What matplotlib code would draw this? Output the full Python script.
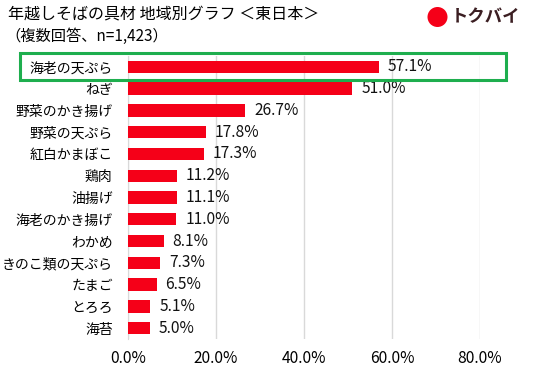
import matplotlib
matplotlib.use('Agg')
import matplotlib.pyplot as plt
from matplotlib.patches import Rectangle, Ellipse

plt.rcParams['font.family'] = ['Noto Sans CJK JP', 'DejaVu Sans']

items = ['海老の天ぷら', 'ねぎ', '野菜のかき揚げ', '野菜の天ぷら', '紅白かまぼこ', '鶏肉', '油揚げ',
         '海老のかき揚げ', 'わかめ', 'きのこ類の天ぷら', 'たまご', 'とろろ', '海苔']
values = [57.1, 51.0, 26.7, 17.8, 17.3, 11.2, 11.1, 11.0, 8.1, 7.3, 6.5, 5.1, 5.0]
xticks = [0, 20, 40, 60, 80]

W, H = 545, 371
fig = plt.figure(figsize=(W / 100, H / 100), dpi=100)
ax = fig.add_axes([128 / W, 1 - 339 / H, (480 - 128) / W, (339 - 56) / H])

ypos = list(range(len(items)))
ax.barh(ypos, values, height=0.57, color='#f50018', zorder=3)
for y, v in zip(ypos, values):
    ax.text(v + 2.0, y, f'{v:.1f}%', va='center', ha='left', fontsize=11.2, color='#111111')

ax.set_xlim(0, 80)
ax.set_ylim(len(items) - 0.5, -0.5)
ax.set_yticks(ypos)
ax.set_yticklabels(items, fontsize=10)
ax.set_xticks(xticks)
ax.set_xticklabels([f'{t:.1f}%' for t in xticks], fontsize=11.2)
ax.tick_params(length=0)
ax.tick_params(axis='x', pad=8)
ax.tick_params(axis='y', pad=11)
ax.grid(axis='x', color='#d9d9d9', linewidth=1, zorder=0)
for s in ['top', 'right', 'bottom']:
    ax.spines[s].set_visible(False)
ax.spines['left'].set_color('#d9d9d9')

# green highlight box around the top item
fig.add_artist(Rectangle((19.5 / W, 1 - 80 / H), (506 - 19.5) / W, (80 - 53) / H,
                         transform=fig.transFigure, fill=False,
                         edgecolor='#1eae4e', linewidth=2.2))

fig.text(8 / W, 1 - 14 / H, '年越しそばの具材 地域別グラフ ＜東日本＞', fontsize=11.5, va='center', ha='left')
fig.text(5 / W, 1 - 36 / H, '（複数回答、n=1,423）', fontsize=11, va='center', ha='left')

# logo
fig.add_artist(Ellipse((437.5 / W, 1 - 17 / H), 20 / W, 20 / H, transform=fig.transFigure,
                       facecolor='#f50018', edgecolor='none'))
fig.text(451 / W, 1 - 17 / H, 'トクバイ', fontsize=12.5, fontweight='bold', color='#3b1e22',
         va='center', ha='left')

plt.savefig('out.png', dpi=100)
